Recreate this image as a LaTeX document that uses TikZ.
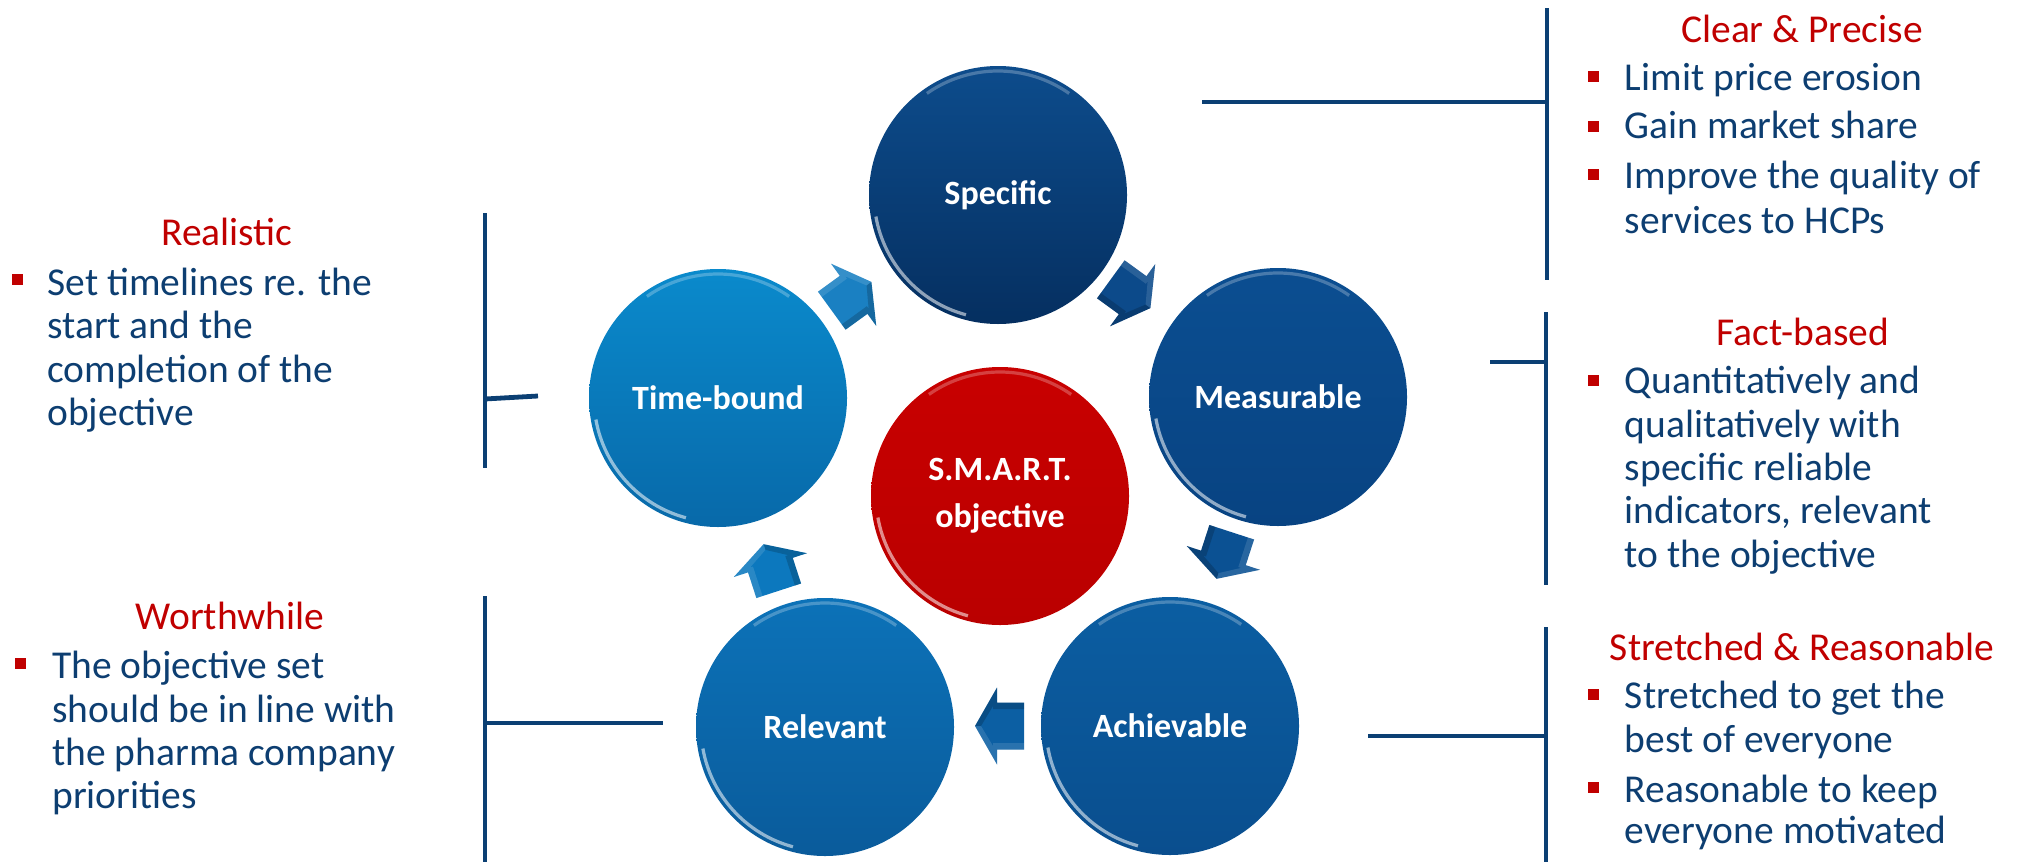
\documentclass[tikz,border=0pt]{standalone}
\usepackage{fontspec}
\setmainfont{Carlito}
\usetikzlibrary{calc}
\definecolor{navy}{HTML}{0B3F73}
\definecolor{txtblue}{HTML}{0D3E71}
\definecolor{tred}{HTML}{C00000}
\definecolor{specT}{HTML}{0D4C8C}\definecolor{specB}{HTML}{052F60}
\definecolor{measT}{HTML}{0B4E91}\definecolor{measB}{HTML}{084382}
\definecolor{achT}{HTML}{0B5EA2}\definecolor{achB}{HTML}{0A4E8E}
\definecolor{relT}{HTML}{0C72B8}\definecolor{relB}{HTML}{0A5B9B}
\definecolor{tbT}{HTML}{0A8ACC}\definecolor{tbB}{HTML}{0869A9}
\definecolor{redT}{HTML}{C80000}\definecolor{redB}{HTML}{BA0000}
\definecolor{aTB}{HTML}{1A80C2}\definecolor{aSM}{HTML}{0C4A8A}
\definecolor{aMA}{HTML}{0B5193}\definecolor{aAR}{HTML}{0C5FA3}
\definecolor{aRT}{HTML}{0C78BE}
\begin{document}
\begin{tikzpicture}[x=0.5pt,y=-0.5pt,
  circ/.style={circle, minimum size=129pt, inner sep=0pt, text=white,
    font=\fontsize{17}{23.5}\selectfont\bfseries, align=center},
  brk/.style={draw=navy, line width=2.4pt},
  ttl/.style={anchor=base, inner sep=0pt, text=tred, font=\fontsize{19.75}{23}\selectfont},
  bodyln/.style={anchor=base west, inner sep=0pt, text=txtblue, font=\fontsize{19.75}{23}\selectfont},
  bul/.style={rectangle, fill=tred, draw=none, minimum size=5.5pt, inner sep=0pt},
  rim/.style={draw=white, line width=1.6pt, opacity=0.55},
  toprim/.style={draw=white, line width=1.6pt, opacity=0.25},
  barrow/.pic={
    \fill[pic actions] (-25,-23.5) -- (2,-23.5) -- (2,-38.5) -- (24,0) -- (2,38.5) -- (2,23.5) -- (-25,23.5) -- cycle;
    \fill[black, opacity=0.18] (-25,23.5) -- (2,23.5) -- (2,38.5) -- (24,0) -- (18,0) -- (6,20) -- (6,17) -- (-25,17) -- cycle;
    \fill[white, opacity=0.12] (-25,-23.5) -- (2,-23.5) -- (2,-38.5) -- (24,0) -- (18,0) -- (6,-20) -- (6,-17) -- (-25,-17) -- cycle;}
]
\useasboundingbox (0,0) rectangle (2017,862);

% circles
\node[circ, top color=specT, bottom color=specB] (spec) at (998,195) {Specific};
\node[circ, top color=measT, bottom color=measB] (meas) at (1278,397) {Measurable};
\node[circ, top color=achT, bottom color=achB] (ach) at (1170,726) {Achievable};
\node[circ, top color=relT, bottom color=relB] (rel) at (825,727) {Relevant};
\node[circ, top color=tbT, bottom color=tbB] (tb) at (718,398) {Time-bound};
\node[circ, top color=redT, bottom color=redB] (smart) at (1000,496) {S.M.A.R.T.\\objective};

% glossy rims
\foreach \c in {spec,meas,ach,rel,tb,smart}{
  \draw[rim] (\c) ++(105:124) arc[start angle=105, end angle=170, radius=124];
  \draw[toprim] (\c) ++(235:124) arc[start angle=235, end angle=305, radius=124];
}

% cycle arrows
\pic[fill=aTB, rotate=36] at (852,296) {barrow};
\pic[fill=aSM, rotate=-36] at (1131,294) {barrow};
\pic[fill=aMA, rotate=-108] at (1224,556) {barrow};
\pic[fill=aAR, rotate=180] at (999,726) {barrow};
\pic[fill=aRT, rotate=108] at (771,567) {barrow};

% brackets
\coordinate (trTop) at (1547,8);   \coordinate (trBot) at (1547,280);  \coordinate (trL) at (1202,102);
\coordinate (fbTop) at (1546,312); \coordinate (fbBot) at (1546,585);  \coordinate (fbL) at (1490,362);
\coordinate (srTop) at (1546,627); \coordinate (srBot) at (1546,862);  \coordinate (srL) at (1368,736);
\coordinate (reTop) at (485,213);  \coordinate (reBot) at (485,468);   \coordinate (reR) at (538,396);
\coordinate (woTop) at (485,596);  \coordinate (woBot) at (485,862);   \coordinate (woR) at (663,723);
\draw[brk] (trTop) -- (trBot); \draw[brk] (trL) -- (trL -| trTop);
\draw[brk] (fbTop) -- (fbBot); \draw[brk] (fbL) -- (fbL -| fbTop);
\draw[brk] (srTop) -- (srBot); \draw[brk] (srL) -- (srL -| srTop);
\draw[brk] (reTop) -- (reBot); \draw[brk] (reTop |- 0,399) -- (reR);
\draw[brk] (woTop) -- (woBot); \draw[brk] (woR -| woTop) -- (woR);

% Clear & Precise
\node[ttl] (cpT) at (1802,42) {Clear \& Precise};
\node[bul] (cpB1) at (1593.5,76) {};
\node[bul] (cpB2) at (1593.5,126) {};
\node[bul] (cpB3) at (1593.5,174) {};
\node[bodyln] (cp1) at (1624.5,90) {Limit price erosion};
\node[bodyln] (cp2) at (1624.5,138) {Gain market share};
\node[bodyln] (cp3) at (1624.5,188) {Improve the quality of};
\node[bodyln] (cp4) at (1624.5,233) {services to HCPs};

% Fact-based
\node[ttl] (fbT) at (1803,345) {Fact-based};
\node[bul] (fbB1) at (1593.5,380) {};
\node[bodyln] (fb1) at (1624.5,393) {Quantitatively and};
\node[bodyln] (fb2) at (1624.5,437) {qualitatively with};
\node[bodyln] (fb3) at (1624.5,480) {specific reliable};
\node[bodyln] (fb4) at (1624.5,523) {indicators, relevant};
\node[bodyln] (fb5) at (1624.5,567) {to the objective};

% Stretched & Reasonable
\node[ttl] (srT) at (1802,660) {Stretched \& Reasonable};
\node[bul] (srB1) at (1593.5,694) {};
\node[bul] (srB2) at (1593.5,787) {};
\node[bodyln] (sr1) at (1624.5,708) {Stretched to get the};
\node[bodyln] (sr2) at (1624.5,752) {best of everyone};
\node[bodyln] (sr3) at (1624.5,802) {Reasonable to keep};
\node[bodyln] (sr4) at (1624.5,843) {everyone motivated};

% Realistic
\node[ttl] (reT) at (227,245) {Realistic};
\node[bul] (reB1) at (17,279) {};
\node[bodyln] (re1) at (47,295) {Set timelines re. the};
\node[bodyln] (re2) at (47,338) {start and the};
\node[bodyln] (re3) at (47,382) {completion of the};
\node[bodyln] (re4) at (47,425) {objective};

% Worthwhile
\node[ttl] (woT) at (230,629) {Worthwhile};
\node[bul] (woB1) at (20,663) {};
\node[bodyln] (wo1) at (52,678) {The objective set};
\node[bodyln] (wo2) at (52,722) {should be in line with};
\node[bodyln] (wo3) at (52,765) {the pharma company};
\node[bodyln] (wo4) at (52,808) {priorities};
\end{tikzpicture}
\end{document}
